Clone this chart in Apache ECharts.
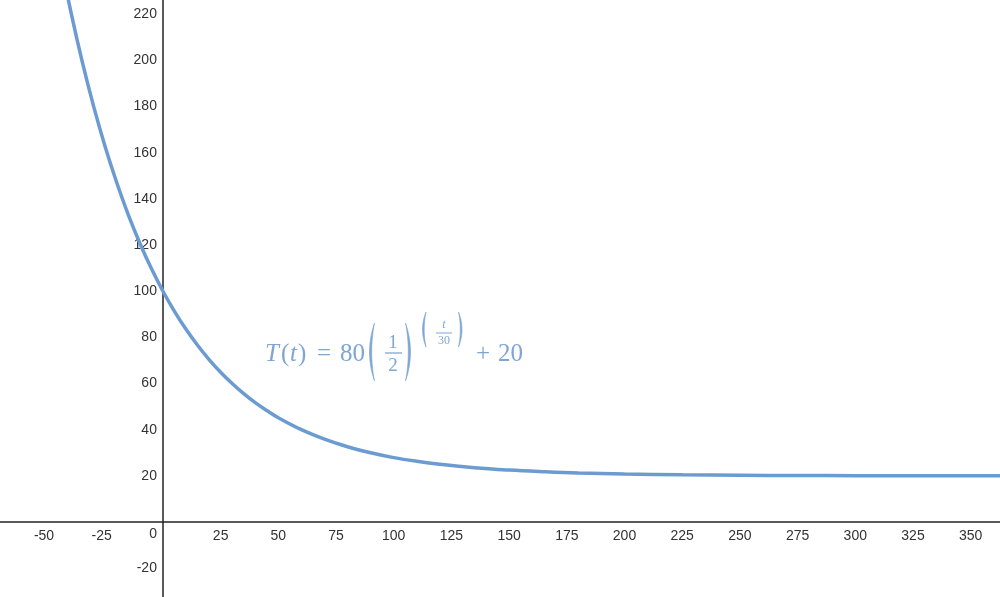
<!DOCTYPE html>
<html>
<head>
<meta charset="utf-8">
<script src="https://cdn.jsdelivr.net/npm/echarts@6/dist/echarts.min.js"></script>
<style>html,body{margin:0;padding:0;background:#fff}#c{width:1000px;height:597px}</style>
</head>
<body>
<div id="c"></div>
<script>
// Tick labels
const xTicks = [-50, -25, 25, 50, 75, 100, 125, 150, 175, 200, 225, 250, 275, 300, 325, 350];
const yTicks = [-20, 20, 40, 60, 80, 100, 120, 140, 160, 180, 200, 220];
// Curve samples: t (x) and T(t) (y)
const tValues = [-50, -45, -40, -35, -30, -25, -20, -15, -10, -5, 0, 5, 10, 15, 20, 25, 30, 35, 40, 45, 50, 60, 70, 80, 90, 100, 110, 120, 135, 150, 165, 180, 200, 225, 250, 275, 300, 330, 365];
const tempValues = [274.0, 246.3, 221.6, 199.6, 180.0, 162.5, 147.0, 133.1, 120.8, 109.8, 100.0, 91.3, 83.5, 76.6, 70.4, 64.9, 60.0, 55.6, 51.7, 48.3, 45.2, 40.0, 35.9, 32.6, 30.0, 27.9, 26.3, 25.0, 23.5, 22.5, 21.8, 21.25, 20.8, 20.44, 20.25, 20.14, 20.08, 20.04, 20.02];

const chart = echarts.init(document.getElementById('c'), null, {renderer: 'canvas'});
const lblFont = 'Arial, "Liberation Sans", sans-serif';
const mathColor = '#7fa6d3';
const mathFont = '"Liberation Serif", "DejaVu Serif", serif';

chart.setOption({
  animation: false,
  grid: {left: 0, right: 0, top: 0, bottom: 0, containLabel: false, outerBoundsMode: 'none'},
  xAxis: {
    type: 'value', min: -70.6, max: 362.7,
    axisLine: {onZero: true, lineStyle: {color: '#222', width: 1.5}},
    axisTick: {show: false},
    splitLine: {show: false},
    axisLabel: {show: false}
  },
  yAxis: {
    type: 'value', min: -32.5, max: 226.2,
    axisLine: {onZero: true, lineStyle: {color: '#222', width: 1.5}},
    axisTick: {show: false},
    splitLine: {show: false},
    axisLabel: {show: false}
  },
  series: [{
    type: 'line',
    data: tValues.map((t, i) => [t, tempValues[i]]),
    smooth: 0.4,
    showSymbol: false,
    clip: true,
    lineStyle: {color: '#6b9bd0', width: 3.5},
    z: 5
  }]
});

const origin = chart.convertToPixel({gridIndex: 0}, [0, 0]);
const labels = [];
xTicks.forEach(v => {
  const p = chart.convertToPixel({gridIndex: 0}, [v, 0]);
  labels.push({type: 'text', x: p[0] - (v < 0 ? 3.5 : 0), y: p[1] + 7, silent: true,
    style: {text: String(v), fill: '#333', font: '14px ' + lblFont, textAlign: 'center', textVerticalAlign: 'top'}});
});
yTicks.forEach(v => {
  const p = chart.convertToPixel({gridIndex: 0}, [0, v]);
  labels.push({type: 'text', x: p[0] - 6, y: p[1], silent: true,
    style: {text: String(v), fill: '#333', font: '14px ' + lblFont, textAlign: 'right', textVerticalAlign: 'middle'}});
});
labels.push({type: 'text', x: origin[0] - 6, y: origin[1] + 5, silent: true,
  style: {text: '0', fill: '#333', font: '14px ' + lblFont, textAlign: 'right', textVerticalAlign: 'top'}});

// crescent-shaped parenthesis glyph; dir = -1 for "(", +1 for ")"
function paren(x, y1, y2, w, t, dir) {
  const m = (y1 + y2) / 2, n = 16, pts = [];
  const ex = x - dir * w;           // end points x
  const c1 = x + dir * w;           // outer control
  const c2 = x + dir * (w - 2 * t); // inner control
  for (let i = 0; i <= n; i++) {
    const s = i / n, a = (1 - s) * (1 - s), b = 2 * s * (1 - s), c = s * s;
    pts.push([a * ex + b * c1 + c * ex, a * y1 + b * m + c * y2]);
  }
  for (let i = n; i >= 0; i--) {
    const s = i / n, a = (1 - s) * (1 - s), b = 2 * s * (1 - s), c = s * s;
    pts.push([a * ex + b * c2 + c * ex, a * y1 + b * m + c * y2]);
  }
  return {type: 'polygon', shape: {points: pts}, style: {fill: mathColor, stroke: mathColor, lineWidth: 0.6}};
}

chart.setOption({
  graphic: labels.concat([
    {type: 'group', silent: true, children: [
      {type: 'text', x: 265, y: 354, style: {text: 'T', fill: mathColor, font: 'italic 25px ' + mathFont, textVerticalAlign: 'middle'}},
      {type: 'text', x: 281, y: 354, style: {text: '(', fill: mathColor, font: '25px ' + mathFont, textVerticalAlign: 'middle'}},
      {type: 'text', x: 290, y: 354, style: {text: 't', fill: mathColor, font: 'italic 25px ' + mathFont, textVerticalAlign: 'middle'}},
      {type: 'text', x: 298, y: 354, style: {text: ')', fill: mathColor, font: '25px ' + mathFont, textVerticalAlign: 'middle'}},
      {type: 'text', x: 317, y: 354, style: {text: '=', fill: mathColor, font: '25px ' + mathFont, textVerticalAlign: 'middle'}},
      {type: 'text', x: 340, y: 354, style: {text: '80', fill: mathColor, font: '25px ' + mathFont, textVerticalAlign: 'middle'}},
      paren(369.5, 323, 381, 5, 2.2, -1),
      {type: 'text', x: 393, y: 343, style: {text: '1', fill: mathColor, font: '19px ' + mathFont, textAlign: 'center', textVerticalAlign: 'middle'}},
      {type: 'line', shape: {x1: 385, y1: 353, x2: 402, y2: 353}, style: {stroke: mathColor, lineWidth: 1.3}},
      {type: 'text', x: 393, y: 366, style: {text: '2', fill: mathColor, font: '19px ' + mathFont, textAlign: 'center', textVerticalAlign: 'middle'}},
      paren(410.5, 323, 381, 5, 2.2, 1),
      paren(422.5, 312, 347, 3.5, 1.7, -1),
      {type: 'text', x: 444, y: 325, style: {text: 't', fill: mathColor, font: 'italic 12px ' + mathFont, textAlign: 'center', textVerticalAlign: 'middle'}},
      {type: 'line', shape: {x1: 436, y1: 333, x2: 452, y2: 333}, style: {stroke: mathColor, lineWidth: 1}},
      {type: 'text', x: 444, y: 341, style: {text: '30', fill: mathColor, font: '12px ' + mathFont, textAlign: 'center', textVerticalAlign: 'middle'}},
      paren(462, 312, 347, 3.5, 1.7, 1),
      {type: 'text', x: 476, y: 354, style: {text: '+', fill: mathColor, font: '25px ' + mathFont, textVerticalAlign: 'middle'}},
      {type: 'text', x: 498, y: 354, style: {text: '20', fill: mathColor, font: '25px ' + mathFont, textVerticalAlign: 'middle'}}
    ]}
  ])
});
</script>
</body>
</html>
